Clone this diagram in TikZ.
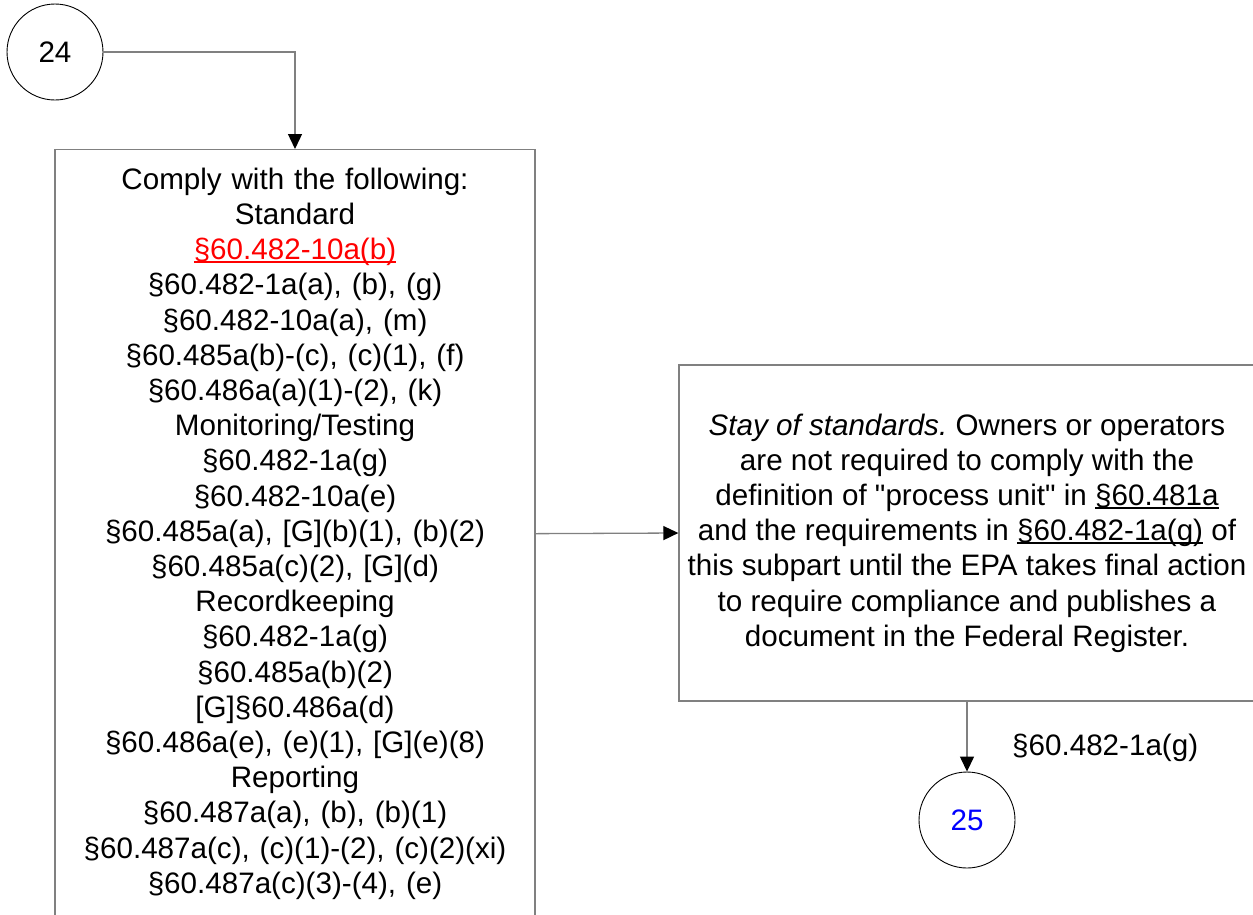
\documentclass[tikz,border=0pt]{standalone}
\usepackage{fontspec}
\setmainfont{Liberation Sans}
\usetikzlibrary{arrows.meta}
\definecolor{linegray}{HTML}{808080}
\definecolor{refred}{HTML}{FF0000}
\definecolor{refblue}{HTML}{0000FF}
\frenchspacing
% link-style underline sitting just below the baseline
\newcommand\linkline[1]{\setbox0\hbox{#1}\rlap{\rule[-3.2pt]{\wd0}{1.6pt}}\box0\relax}
\begin{document}
\begin{tikzpicture}[x=1pt,y=-1pt,
  every node/.style={font=\fontsize{29.6}{35.2}\selectfont, inner sep=0pt},
  conn/.style={draw=linegray, line width=1.3pt, -{Triangle[length=15pt,width=14pt,color=black]}},
  frame/.style={draw=linegray, line width=1.3pt},
  offpage/.style={circle, draw=black, line width=0.9pt, minimum size=96pt}]
\useasboundingbox (0,0) rectangle (1253,914);

% off-page connectors
\node[offpage] (c24) at (55,52) {24};
\node[offpage, text=refblue] (c25) at (967,820) {25};

% requirements box
\node[frame, anchor=north, text width=480pt, minimum height=768pt, align=center] (comply) at (295,149) {%
Comply with the following:\\
Standard\\
\textcolor{refred}{\linkline{§60.482-10a(b)}}\\
§60.482-1a(a), (b), (g)\\
§60.482-10a(a), (m)\\
§60.485a(b)-(c), (c)(1), (f)\\
§60.486a(a)(1)-(2), (k)\\
Monitoring/Testing\\
§60.482-1a(g)\\
§60.482-10a(e)\\
§60.485a(a), {[G]}(b)(1), (b)(2)\\
§60.485a(c)(2), {[G]}(d)\\
Recordkeeping\\
§60.482-1a(g)\\
§60.485a(b)(2)\\
{[G]}§60.486a(d)\\
§60.486a(e), (e)(1), {[G]}(e)(8)\\
Reporting\\
§60.487a(a), (b), (b)(1)\\
§60.487a(c), (c)(1)-(2), (c)(2)(xi)\\
§60.487a(c)(3)-(4), (e)};

% stay of standards box
\node[frame, minimum width=576pt, minimum height=336pt, align=center] (stay) at (967,533) {%
\textit{Stay of standards.} Owners or operators\\
are not required to comply with the\\
definition of \textquotedbl process unit\textquotedbl{} in \linkline{§60.481a}\\
and the requirements in \linkline{§60.482-1a(g)} of\\
this subpart until the EPA takes final action\\
to require compliance and publishes a\\
document in the Federal Register.};

\node[anchor=west] (lbl) at (1012,748) {§60.482-1a(g)};

% connectors
\draw[conn] (c24.east) -| (comply.north);
\draw[conn] (comply.east) -- (stay.west);
\draw[conn] (stay.south) -- (c25.north);
\end{tikzpicture}
\end{document}
